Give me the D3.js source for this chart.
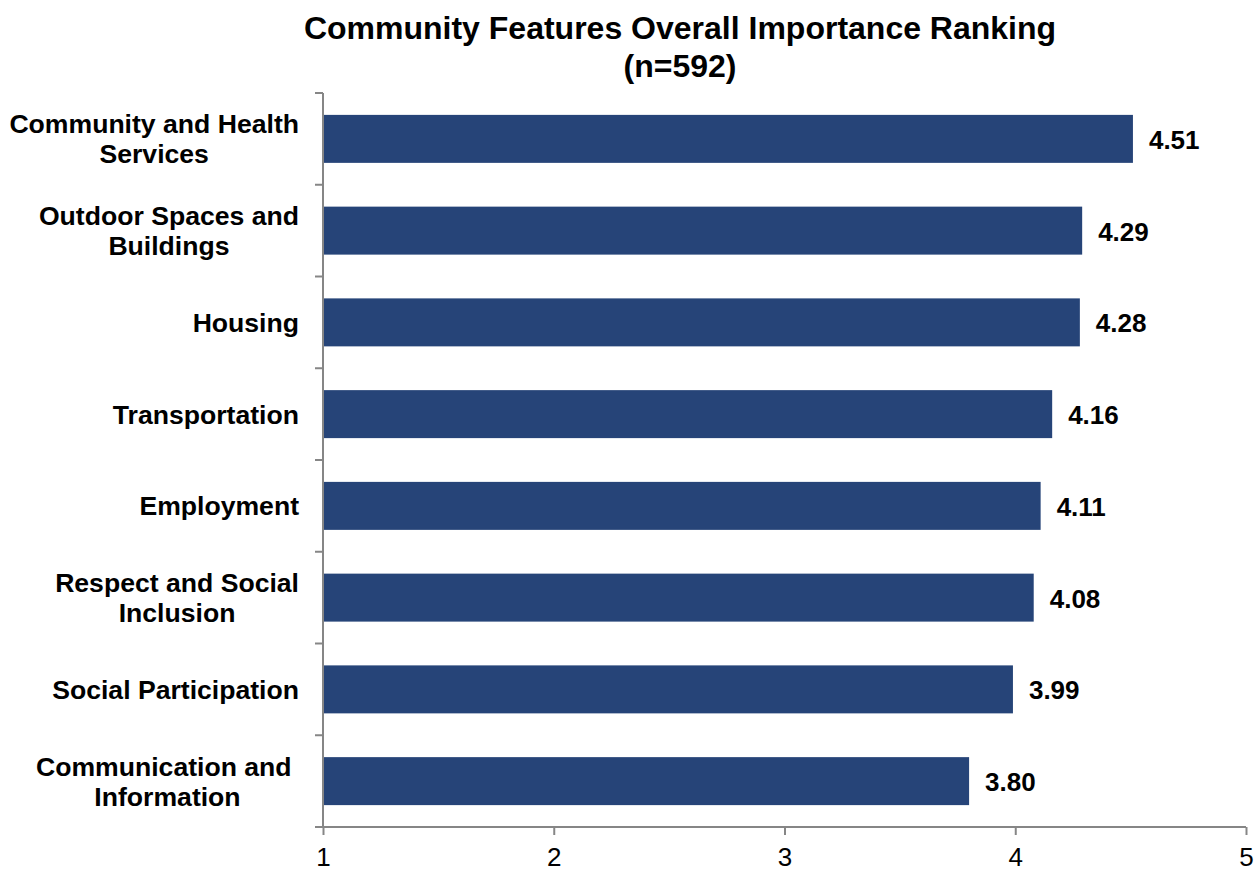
<!DOCTYPE html>
<html>
<head>
<meta charset="utf-8">
<script src="https://cdn.jsdelivr.net/npm/d3@7"></script>
<style>
  html, body { margin: 0; padding: 0; background: #ffffff; }
  svg { display: block; font-family: "Liberation Sans", Arial, sans-serif; }
  .cat { white-space: pre; }
</style>
</head>
<body>
<svg id="chart" width="1258" height="869"></svg>
<script>
// Category labels (each entry holds the wrapped lines) and mean scores
const categories = [
  ["Community and Health", "Services"],
  ["Outdoor Spaces and", "Buildings"],
  ["Housing"],
  ["Transportation"],
  ["Employment"],
  ["Respect and Social", "Inclusion"],
  ["Social Participation"],
  ["Communication and ", "Information"]
];
const scores = [4.51, 4.29, 4.28, 4.16, 4.11, 4.08, 3.99, 3.80];
const xTicks = [1, 2, 3, 4, 5];
const titleLines = ["Community Features Overall Importance Ranking", "(n=592)"];

const svg = d3.select("#chart");
const plotLeft = 323, plotRight = 1246, plotTop = 93, plotBottom = 827;
const barColor = "#264478";
const axisColor = "#868686";

const keys = categories.map(c => c.map(s => s.trim()).join(" "));
const x = d3.scaleLinear().domain([1, 5]).range([plotLeft, plotRight]);
const y = d3.scaleBand().domain(keys).range([plotTop, plotBottom])
  .paddingInner(0.477).paddingOuter(0.2385);

// Title
const title = svg.append("text")
  .attr("text-anchor", "middle")
  .attr("font-weight", "bold")
  .attr("font-size", 32)
  .attr("fill", "#000");
titleLines.forEach((t, i) => {
  title.append("tspan").attr("x", 680).attr("y", 39 + i * 38).text(t);
});

// Bars
svg.append("g").selectAll("rect")
  .data(scores)
  .join("rect")
  .attr("x", x(1))
  .attr("y", (d, i) => y(keys[i]))
  .attr("width", d => x(d) - x(1))
  .attr("height", y.bandwidth())
  .attr("fill", barColor);

// Value labels
svg.append("g").selectAll("text")
  .data(scores)
  .join("text")
  .attr("x", d => x(d) + 16)
  .attr("y", (d, i) => y(keys[i]) + y.bandwidth() / 2 + 10)
  .attr("font-weight", "bold")
  .attr("font-size", 26)
  .attr("fill", "#000")
  .text(d => d.toFixed(2));

// X axis
const xAxis = svg.append("g")
  .attr("transform", `translate(0,${plotBottom})`)
  .call(d3.axisBottom(x).tickValues(xTicks).tickSize(8).tickPadding(13).tickFormat(d3.format("d")));
xAxis.select(".domain").attr("stroke", axisColor).attr("stroke-width", 2)
  .attr("d", `M${plotLeft},0H${plotRight}`);
xAxis.selectAll(".tick line").attr("stroke", axisColor).attr("stroke-width", 2);
xAxis.selectAll(".tick text")
  .attr("font-size", 26)
  .attr("font-family", "Liberation Sans, Arial, sans-serif")
  .attr("fill", "#000");

// Y axis: tick marks sit on band boundaries
const yAxis = svg.append("g");
yAxis.append("line")
  .attr("x1", plotLeft).attr("x2", plotLeft)
  .attr("y1", plotTop).attr("y2", plotBottom)
  .attr("stroke", axisColor).attr("stroke-width", 2);
const boundaries = d3.range(keys.length + 1).map(i => plotTop + i * y.step());
yAxis.selectAll("line.tk")
  .data(boundaries)
  .join("line")
  .attr("class", "tk")
  .attr("x1", plotLeft - 8).attr("x2", plotLeft)
  .attr("y1", d => d).attr("y2", d => d)
  .attr("stroke", axisColor).attr("stroke-width", 2);

// Category labels: lines centred within a block right-aligned beside the axis
const labelRight = 299;
const lineGap = 30;
categories.forEach((lines, i) => {
  const cy = y(keys[i]) + y.bandwidth() / 2;
  const g = svg.append("g");
  const texts = lines.map((ln, j) => g.append("text")
    .attr("class", "cat")
    .attr("font-weight", "bold")
    .attr("font-size", 26.6)
    .attr("fill", "#000")
    .attr("text-anchor", "middle")
    .attr("y", cy + 9.5 - (lines.length - 1) * lineGap / 2 + j * lineGap)
    .text(ln));
  const widths = texts.map(t => t.node().getComputedTextLength());
  const maxW = d3.max(widths);
  texts.forEach(t => t.attr("x", labelRight - maxW / 2));
});
</script>
</body>
</html>
